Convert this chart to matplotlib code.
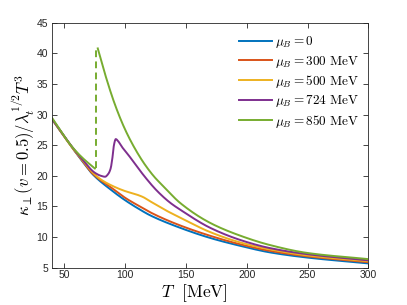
import numpy as np
import matplotlib
matplotlib.use('Agg')
import matplotlib.pyplot as plt

plt.rcParams['mathtext.fontset'] = 'cm'
plt.rcParams['font.family'] = ['Liberation Sans', 'DejaVu Sans']

# values
T_mu0 = [40, 56, 65, 73, 89, 100, 112, 120, 140, 170, 195, 219, 250, 300]
k_mu0 = [29.2, 24.7, 22.3, 20.3, 17.6, 16.0, 14.5, 13.6, 11.9, 9.85, 8.55, 7.5, 6.65, 5.7]

T_mu300 = [40, 56, 65, 73, 89, 100, 112, 120, 140, 170, 195, 219, 250, 300]
k_mu300 = [29.2, 24.7, 22.4, 20.4, 18.0, 16.4, 15.0, 14.1, 12.3, 10.2, 8.8, 7.75, 6.85, 5.9]

T_mu500 = [40, 56, 65, 73, 80, 89, 100, 105, 110, 115, 120, 127, 134, 145, 170, 195, 219, 250, 300]
k_mu500 = [29.2, 24.7, 22.5, 20.6, 19.4, 18.4, 17.5, 17.2, 16.9, 16.5, 15.9, 15.1, 14.3, 13.2,
           10.8, 9.1, 8.0, 7.0, 6.05]

T_mu724 = [40, 56, 65, 75, 80, 83.4, 86, 88, 89.5, 90.7, 92.2, 94, 97, 102.6, 116.3, 125.9, 137, 145,
           170, 195, 219, 250, 300]
k_mu724 = [29.2, 24.8, 22.6, 20.5, 20.0, 19.85, 20.3, 21.2, 23.0, 25.0, 26.0, 25.7, 24.8, 23.4, 19.8,
           17.6, 15.6, 14.5, 11.5, 9.5, 8.2, 7.2, 6.2]

T_mu850_lo = [40, 56, 65, 75]
k_mu850_lo = [29.4, 24.8, 22.9, 21.2]
T_mu850_hi = [77.4, 83.4, 91.6, 99.8, 108.1, 116.3, 124.5, 131.4, 145, 170, 195, 219, 250, 300]
k_mu850_hi = [40.8, 36.6, 31.6, 27.6, 24.4, 21.8, 19.7, 18.3, 15.6, 12.3, 10.2, 8.7, 7.4, 6.4]
T_jump = 75.6

labels = [r'$\mu_B = 0$', r'$\mu_B = 300\ \mathrm{MeV}$', r'$\mu_B = 500\ \mathrm{MeV}$',
          r'$\mu_B = 724\ \mathrm{MeV}$', r'$\mu_B = 850\ \mathrm{MeV}$']
colors = ['#0072BD', '#D95319', '#EDB120', '#7E2F8E', '#77AC30']


def pchip(x, y, n=500):
    # shape preserving cubic through the read points (Fritsch-Carlson)
    x = np.asarray(x, float)
    y = np.asarray(y, float)
    h = np.diff(x)
    d = np.diff(y) / h
    m = np.zeros_like(y)
    for i in range(1, len(x) - 1):
        if d[i - 1] * d[i] > 0:
            w1 = 2 * h[i] + h[i - 1]
            w2 = h[i] + 2 * h[i - 1]
            m[i] = (w1 + w2) / (w1 / d[i - 1] + w2 / d[i])
    m[0] = d[0]
    m[-1] = d[-1]
    xs = np.linspace(x[0], x[-1], n)
    idx = np.clip(np.searchsorted(x, xs) - 1, 0, len(x) - 2)
    hh = h[idx]
    t = (xs - x[idx]) / hh
    ys = ((2 * t**3 - 3 * t**2 + 1) * y[idx] + (t**3 - 2 * t**2 + t) * hh * m[idx]
          + (-2 * t**3 + 3 * t**2) * y[idx + 1] + (t**3 - t**2) * hh * m[idx + 1])
    return xs, ys


fig = plt.figure(figsize=(4.07, 3.05), dpi=100)
ax = fig.add_axes([0.1285, 0.1223, 0.7765, 0.8033])

lw = 1.4
series = [(T_mu0, k_mu0), (T_mu300, k_mu300), (T_mu500, k_mu500), (T_mu724, k_mu724)]
for (t, k), c, lab in zip(series, colors, labels):
    ax.plot(*pchip(t, k), color=c, lw=lw, label=lab)

ax.plot(*pchip(T_mu850_lo, k_mu850_lo), color=colors[4], lw=lw, label=labels[4])
ax.plot(*pchip(T_mu850_hi, k_mu850_hi), color=colors[4], lw=lw)
ax.plot([T_jump, T_jump], [k_mu850_lo[-1], k_mu850_hi[0]],
        color=colors[4], lw=lw, ls=(0, (3.5, 2.2)))

ax.set_xlim(40, 300)
ax.set_ylim(5, 45)
ax.set_xticks([50, 100, 150, 200, 250, 300])
ax.set_yticks(np.arange(5, 46, 5))
ax.tick_params(direction='in', top=True, right=True, length=3.5, width=0.6,
               labelsize=7.5, colors='#262626', pad=3)
ax.tick_params(axis='x', pad=2)
for s in ax.spines.values():
    s.set_color('#262626')
    s.set_linewidth(0.6)

ax.set_xlabel(r'$T\ \ [\mathrm{MeV}]$', fontsize=12.5)
ax.xaxis.set_label_coords(0.45, -0.06, transform=ax.transAxes)
ax.xaxis.label.set_va('top')
ax.set_ylabel(r'$\kappa_\perp(v=0.5)/\lambda_t^{1/2}T^3$', fontsize=12, labelpad=0)

ax.legend(loc='upper right', bbox_to_anchor=(1.0, 0.99), frameon=False, fontsize=9.5,
          handlelength=2.5, handletextpad=0.25, labelspacing=0.25, borderaxespad=0.3)

fig.savefig('out.png', dpi=100)
